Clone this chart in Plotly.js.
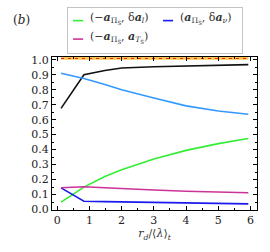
<!DOCTYPE html>
<html><head><meta charset="utf-8">
<script src="https://cdn.plot.ly/plotly-3.0.1.min.js"></script>
<style>html,body{margin:0;padding:0;background:#fff}#c{width:270px;height:252px}</style>
</head><body><div id="c"></div>
<script>
const xs = [0.12, 0.83, 1.48, 2.0, 3.0, 4.0, 5.0, 5.93];
const blackVals = [0.675, 0.9, 0.928, 0.945, 0.953, 0.958, 0.963, 0.967];
const lightBlueVals = [0.91, 0.875, 0.835, 0.80, 0.744, 0.692, 0.658, 0.636];
const greenVals = [0.05, 0.15, 0.22, 0.265, 0.337, 0.395, 0.44, 0.474];
const magentaVals = [0.145, 0.152, 0.146, 0.14, 0.131, 0.122, 0.116, 0.112];
const blueVals = [0.145, 0.055, 0.053, 0.051, 0.048, 0.044, 0.040, 0.038];
const bandX = [0.12, 5.93];
const bandLow = [1.0, 1.0];
const bandHigh = [1.02, 1.02];
const refLine = [1.008, 1.008];
const names = [
  "(−<b><i>a</i></b><sub>Π<sub>S̅</sub></sub>, δ<b><i>a</i></b><sub><i>l</i></sub>)",
  "(<b><i>a</i></b><sub>Π<sub>S̅</sub></sub>, δ<b><i>a</i></b><sub><i>ν</i></sub>)",
  "(−<b><i>a</i></b><sub>Π<sub>S̅</sub></sub>, <b><i>a</i></b><sub><i>T</i><sub>S̅</sub></sub>)"
];
const colors = ['#33ee33', '#1a1aee', '#cc3399'];
const F = "DejaVu Serif";
const traces = [
  {x: bandX, y: bandLow, mode: 'lines', line: {width: 0, color: 'rgba(0,0,0,0)'}, showlegend: false},
  {x: bandX, y: bandHigh, mode: 'lines', fill: 'tonexty', fillcolor: 'rgba(255,190,40,0.85)', line: {width: 0, color: 'rgba(0,0,0,0)'}, showlegend: false},
  {x: bandX, y: refLine, mode: 'lines', line: {color: '#ee2222', width: 1.2, dash: '3px,4px'}, showlegend: false},
  {x: xs, y: blackVals, mode: 'lines', line: {color: '#111111', width: 1.6}, showlegend: false},
  {x: xs, y: lightBlueVals, mode: 'lines', line: {color: '#3399ff', width: 1.6}, showlegend: false},
  {x: xs, y: greenVals, mode: 'lines', name: names[0], line: {color: colors[0], width: 1.6}, showlegend: false},
  {x: xs, y: blueVals, mode: 'lines', name: names[1], line: {color: colors[1], width: 1.6}, showlegend: false},
  {x: xs, y: magentaVals, mode: 'lines', name: names[2], line: {color: colors[2], width: 1.6}, showlegend: false},
  // invisible anchor so the legend-box subplot exists
  {x: [0.5], y: [0.5], xaxis: 'x2', yaxis: 'y2', mode: 'markers', marker: {opacity: 0, size: 1}, showlegend: false, hoverinfo: 'skip'}
];
const axCommon = {
  showgrid: false, zeroline: false, showline: true, linecolor: '#000', linewidth: 1, mirror: 'ticks',
  ticks: 'inside', ticklen: 4, tickwidth: 1, tickcolor: '#000',
  tickfont: {family: F, size: 11, color: '#222'}
};
const boxAx = {range: [0, 1], showline: true, mirror: true, linecolor: '#c4c4c4', linewidth: 1,
  showgrid: false, zeroline: false, showticklabels: false, ticks: '', fixedrange: true};
// legend entries in box-subplot coordinates
const legRows = [0.72, 0.72, 0.31];
const legCols = [0.029, 0.546, 0.029];
const shapes = [];
const annotations = [
  {text: "(<i>b</i>)", xref: 'paper', yref: 'paper', x: -0.2, y: 0.94, xanchor: 'left', yanchor: 'middle', showarrow: false, font: {family: F, size: 12, color: '#222'}}
];
for (let i = 0; i < 3; i++) {
  shapes.push({type: 'line', xref: 'x2', yref: 'y2', x0: legCols[i], x1: legCols[i] + 0.058, y0: legRows[i], y1: legRows[i], line: {color: colors[i], width: 1.6}});
  annotations.push({text: names[i], xref: 'x2', yref: 'y2', x: legCols[i] + 0.085, y: legRows[i] + 0.04, xanchor: 'left', yanchor: 'middle', showarrow: false, font: {family: F, size: 11, color: '#333'}});
}
const layout = {
  width: 270, height: 252,
  margin: {l: 52, r: 13, t: 8, b: 42},
  paper_bgcolor: '#fff', plot_bgcolor: '#fff',
  font: {family: F, size: 11, color: '#222'},
  showlegend: false,
  xaxis: Object.assign({}, axCommon, {domain: [0, 1], anchor: 'y', range: [-0.16, 6.2], dtick: 1, tick0: 0,
    minor: {dtick: 0.5, ticks: 'inside', ticklen: 2, tickcolor: '#000'},
    title: {text: "<i>r</i><sub><i>d</i></sub>/⟨<i>λ</i>⟩<sub><i>t</i></sub>", font: {family: F, size: 11, color: '#333'}, standoff: 0}}),
  yaxis: Object.assign({}, axCommon, {domain: [0, 0.7574], anchor: 'x', range: [-0.003, 1.018], dtick: 0.1, tick0: 0, tickformat: '.1f',
    minor: {dtick: 0.05, ticks: 'inside', ticklen: 2, tickcolor: '#000'}}),
  xaxis2: Object.assign({}, boxAx, {domain: [0.078, 0.927], anchor: 'y2'}),
  yaxis2: Object.assign({}, boxAx, {domain: [0.777, 1.0], anchor: 'x2'}),
  shapes: shapes,
  annotations: annotations
};
Plotly.newPlot('c', traces, layout, {displayModeBar: false, staticPlot: true});
</script></body></html>
